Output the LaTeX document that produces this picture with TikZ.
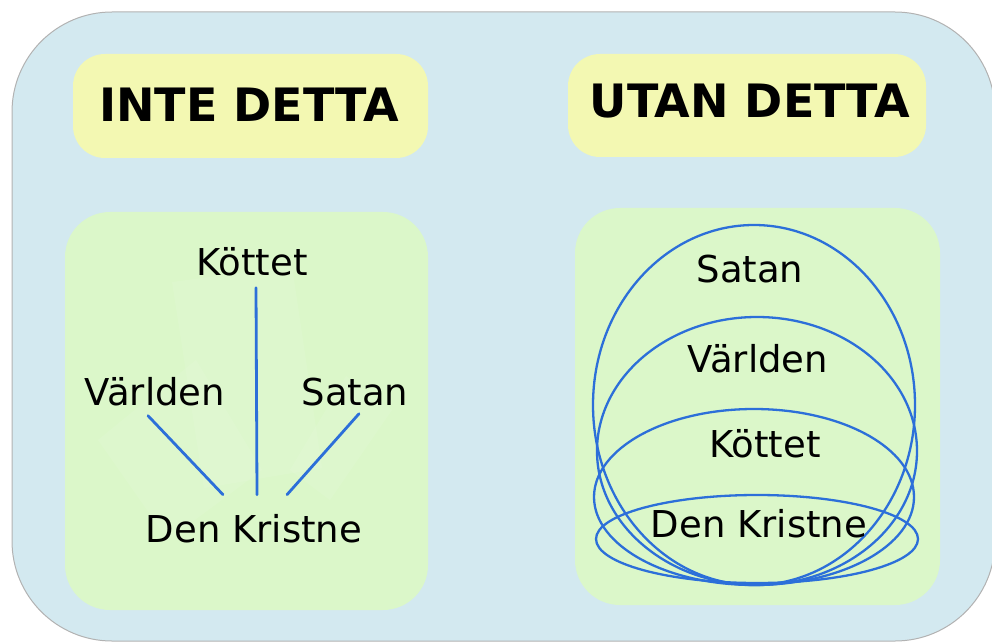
\documentclass[tikz,border=0pt]{standalone}
\usepackage{fontspec}
\setmainfont{DejaVu Sans}
\usetikzlibrary{calc}
\usetikzlibrary{positioning}
\definecolor{outerblue}{HTML}{D3E9F0}
\definecolor{titleyellow}{HTML}{F3F8B2}
\definecolor{panelgreen}{HTML}{DBF7C9}
\definecolor{linkblue}{HTML}{2C6FD9}
\tikzset {
  % big rounded frame round everything
  frame/.style = {
    fill = outerblue,
    draw = gray!60,
    line width = 1pt,
    rounded corners = 100pt
  },
  title box/.style = {
    fill = titleyellow,
    rounded corners = 32pt
  },
  panel/.style = {
    fill = panelgreen,
    rounded corners = 45pt
  },
  % faint selection marks behind the left lines
  ghost/.style = {
    fill = white,
    opacity = 0.08
  }
}
\tikzset {
  heading/.style = {
    inner sep = 0,
    anchor = base,
    font = \fontsize{46}{50}\selectfont\bfseries
  },
  word/.style = {
    inner sep = 0,
    anchor = base,
    font = \fontsize{37}{42}\selectfont
  },
  link/.style = {
    draw = linkblue,
    line width = 2.8pt,
    line cap = round
  },
  ring/.style = {
    draw = linkblue,
    line width = 2.3pt
  }
}

\begin{document}
\begin{tikzpicture}[x=1pt, y=-1pt]
    \useasboundingbox (0,0) rectangle (992,644);
    \clip (0,0) rectangle (992,644);
    \path[frame] (12,12) rectangle (995,641);

    % headings
    \path[title box] (73,54) rectangle (428,158);
    \path[title box] (568,54) rectangle (926,157);
    \node[heading] (inte) at (249,122) {INTE DETTA};
    \node[heading] (utan) at (750,118) {UTAN DETTA};

    % left panel
    \path[panel] (65,212) rectangle (428,610);
    \path[ghost] (172,282) -- (292,266) -- (322,468) -- (204,488) -- cycle;
    \path[ghost] (98,440) -- (196,360) -- (262,470) -- (168,540) -- cycle;
    \path[ghost] (290,470) -- (346,376) -- (392,410) -- (330,500) -- cycle;
    \node[word] (kott-l) at (252,275) {Köttet};
    \node[word] (varld-l) at (155,405) {Världen};
    \node[word] (satan-l) at (355,405) {Satan};
    \node[word] (krist-l) at (254,542) {Den Kristne};

    \draw[link] ($(kott-l.south)+(4,12)$) -- ($(krist-l.north)+(3,-19)$);
    \draw[link] ($(varld-l.south)+(-7,10)$) -- ($(krist-l.north)+(-31,-19)$);
    \draw[link] ($(satan-l.south)+(4,8)$) -- ($(krist-l.north)+(33,-19)$);

    % right panel
    \path[panel] (575,208) rectangle (940,605);
    \draw[ring] (754,405) ellipse [x radius=161, y radius=180];
    \draw[ring] (757,451) ellipse [x radius=160, y radius=134];
    \draw[ring] (754,497) ellipse [x radius=160, y radius=88];
    \draw[ring] (757,539) ellipse [x radius=161, y radius=44];
    \node[word] (satan-r) at (750,282) {Satan};
    \node[word] (varld-r) at (758,372) {Världen};
    \node[word] (kott-r) at (765,457) {Köttet};
    \node[word] (krist-r) at (759,537) {Den Kristne};
\end{tikzpicture}
\end{document}
